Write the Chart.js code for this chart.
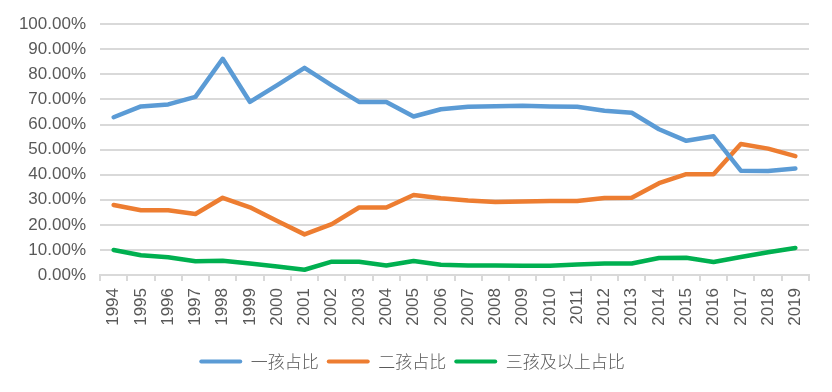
<!DOCTYPE html>
<html>
<head>
<meta charset="utf-8">
<script src="https://cdn.jsdelivr.net/npm/chart.js@4"></script>
<style>
html,body{margin:0;padding:0;background:#fff;}
#wrap{width:832px;height:392px;position:relative;}
</style>
</head>
<body>
<div id="wrap"><canvas id="c" width="832" height="392"></canvas></div>
<script>
const years = ['1994','1995','1996','1997','1998','1999','2000','2001','2002','2003','2004','2005','2006','2007','2008','2009','2010','2011','2012','2013','2014','2015','2016','2017','2018','2019'];
const seriesNames = ['一孩占比','二孩占比','三孩及以上占比'];
const oneChild = [62.9,67.2,68.0,71.0,86.2,69.0,75.7,82.6,75.6,69.0,69.0,63.2,66.1,67.1,67.3,67.5,67.2,67.1,65.5,64.7,58.1,53.5,55.3,41.6,41.5,42.5];
const twoChild = [27.9,25.8,25.8,24.3,30.8,27.0,21.5,16.2,20.3,26.9,26.9,31.9,30.6,29.7,29.1,29.3,29.5,29.5,30.7,30.8,36.6,40.2,40.2,52.2,50.4,47.4];
const threePlus = [10.0,7.9,7.1,5.5,5.7,4.6,3.4,2.1,5.3,5.3,3.8,5.6,4.1,3.8,3.8,3.7,3.7,4.2,4.6,4.6,6.8,6.9,5.2,7.2,9.1,10.8];
const yTicks = [0,10,20,30,40,50,60,70,80,90,100];
const colors = ['#5b9bd5','#ed7d31','#00b050'];

const gridColor = '#d9d9d9';
const textColor = '#595959';

new Chart(document.getElementById('c'), {
  type: 'line',
  data: {
    labels: years,
    datasets: [oneChild, twoChild, threePlus].map((d, i) => ({
      label: seriesNames[i],
      data: d,
      borderColor: colors[i],
      backgroundColor: colors[i],
      borderWidth: 4.5,
      pointRadius: 0,
      tension: 0,
      fill: false,
      borderCapStyle: 'round',
      borderJoinStyle: 'round'
    }))
  },
  options: {
    responsive: false,
    animation: false,
    layout: { padding: { left: 15, right: 23, top: 22, bottom: 12 } },
    plugins: {
      tooltip: { enabled: false },
      legend: {
        position: 'bottom',
        labels: {
          boxWidth: 43,
          boxHeight: 4,
          padding: 8,
          color: textColor,
          font: { family: '"Noto Sans CJK SC"', size: 17, weight: '300' },
          generateLabels(chart) {
            const items = Chart.defaults.plugins.legend.labels.generateLabels(chart);
            items.forEach(it => { it.lineWidth = 0; it.borderRadius = 2; });
            return items;
          }
        }
      }
    },
    scales: {
      x: {
        type: 'category',
        offset: true,
        grid: {
          offset: true,
          drawOnChartArea: false,
          drawTicks: true,
          tickLength: 6,
          color: gridColor,
          lineWidth: 2
        },
        border: { display: true, color: gridColor, width: 2 },
        ticks: {
          color: textColor,
          font: { family: '"Liberation Sans", Arial, sans-serif', size: 17 },
          minRotation: 90,
          maxRotation: 90,
          autoSkip: false,
          padding: 7
        },
        afterFit(scale) { scale.height = 70; }
      },
      y: {
        min: 0,
        max: 100,
        afterBuildTicks(scale) { scale.ticks = yTicks.map(v => ({ value: v })); },
        grid: {
          drawTicks: false,
          color: gridColor,
          lineWidth: 2
        },
        border: { display: false },
        ticks: {
          color: textColor,
          font: { family: '"Liberation Sans", Arial, sans-serif', size: 17 },
          padding: 14,
          callback: v => v.toFixed(2) + '%'
        },
        afterFit(scale) { scale.width = 85; }
      }
    }
  }
});
</script>
</body>
</html>
